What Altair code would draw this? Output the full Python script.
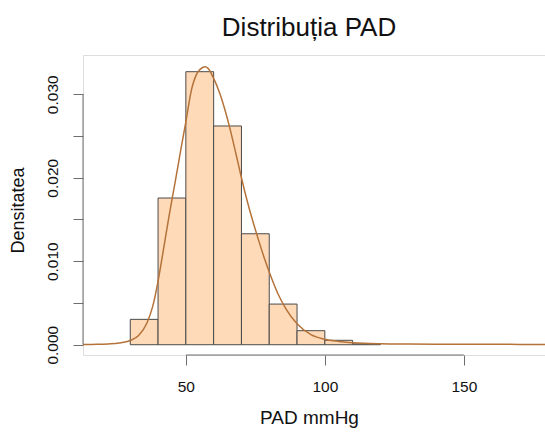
import altair as alt
import pandas as pd

# Histogram bins (width 10) and densities
bin_start = [30, 40, 50, 60, 70, 80, 90, 100, 110]
bin_density = [0.00304, 0.01757, 0.0327, 0.0262, 0.01329, 0.00487, 0.00168, 0.00053, 0.0001]

# Kernel density curve
curve_x = [13, 18, 22, 26, 30, 33, 36, 38, 40, 42, 44, 46, 48, 50, 52, 54, 56, 57, 58,
           60, 62, 64, 66, 68, 70, 72, 74, 76, 78, 80, 83, 86, 90, 95, 100, 105, 110,
           120, 130, 140, 150, 160, 170, 180]
curve_y = [0.00002, 0.00005, 0.0001, 0.0002, 0.0005, 0.0011, 0.0026, 0.0045, 0.0076,
           0.0115, 0.0155, 0.0192, 0.0230, 0.0267, 0.0305, 0.0325, 0.0332, 0.0333, 0.0331,
           0.0319, 0.0303, 0.0282, 0.0257, 0.0229, 0.0200, 0.0173, 0.0149, 0.0127, 0.0106,
           0.0087, 0.0062, 0.0043, 0.0025, 0.0012, 0.00065, 0.0004, 0.00025,
           0.00012, 0.00008, 0.00006, 0.00005, 0.00005, 0.00004, 0.00003]

x_ticks = [50, 100, 150]
y_ticks = [0.0, 0.005, 0.010, 0.015, 0.020, 0.025, 0.030]

FONT = "Liberation Sans"
W, H = 462, 300

bins = pd.DataFrame({"start": bin_start,
                     "end": [b + 10 for b in bin_start],
                     "dens": bin_density,
                     "zero": [0.0] * len(bin_start)})
curve = pd.DataFrame({"x": curve_x, "y": curve_y})

xscale = alt.Scale(domain=[13.0, 179.2], nice=False, zero=False)
yscale = alt.Scale(domain=[-0.00123, 0.0347], nice=False, zero=False)

x_axis = alt.Axis(values=x_ticks, domain=False, grid=False, tickSize=10,
                  tickColor="#6e6e6e", tickWidth=1, labelFontSize=15.5,
                  labelFont=FONT, labelColor="#111", labelPadding=14,
                  labelBaseline="top", title="PAD mmHg", titleFont=FONT,
                  titleFontSize=19, titleFontWeight="normal", titleColor="#111",
                  titleX=226, titleY=68, titleBaseline="alphabetic", titleAlign="center")
y_axis = alt.Axis(values=y_ticks, domain=False, grid=False, tickSize=10,
                  tickColor="#6e6e6e", tickWidth=1, labelFontSize=15.5,
                  labelFont=FONT, labelColor="#111", labelAngle=-90,
                  labelAlign="center", labelBaseline="bottom", labelPadding=13,
                  labelExpr="round(datum.value*1000) % 10 == 0 ? format(datum.value, '.3f') : ''",
                  title="Densitatea", titleFont=FONT, titleFontSize=18,
                  titleFontWeight="normal", titleColor="#111", titleX=-65, titleY=155,
                  titleBaseline="middle", titleAlign="center", titleAngle=-90)

bars = alt.Chart(bins).mark_rect(fill="#FFDAB9", stroke="#4a4a4a", strokeWidth=1).encode(
    x=alt.X("start:Q", scale=xscale, axis=x_axis),
    x2="end:Q",
    y=alt.Y("dens:Q", scale=yscale, axis=y_axis),
    y2="zero:Q",
)

line = alt.Chart(curve).mark_line(color="#B5733A", strokeWidth=1.5, clip=True,
                                  interpolate="monotone").encode(
    x=alt.X("x:Q", scale=xscale),
    y=alt.Y("y:Q", scale=yscale),
)

xline = alt.Chart(pd.DataFrame({"a": [x_ticks[0]], "b": [x_ticks[-1]]})).mark_rule(
    color="#6e6e6e", strokeWidth=1).encode(
    x=alt.X("a:Q", scale=xscale), x2="b:Q", y=alt.value(H))

yline = alt.Chart(pd.DataFrame({"a": [y_ticks[0]], "b": [y_ticks[-1]]})).mark_rule(
    color="#6e6e6e", strokeWidth=1).encode(
    y=alt.Y("a:Q", scale=yscale), y2="b:Q", x=alt.value(0))

chart = alt.layer(bars, line, xline, yline).properties(
    width=W, height=H,
    title=alt.TitleParams(text="Distribuția PAD", font=FONT, fontSize=26,
                          fontWeight="normal", color="#111", anchor="middle",
                          dx=-5, offset=14),
    autosize=alt.AutoSizeParams(type="none"),
    padding={"left": 83, "top": 55, "right": 0, "bottom": 79},
).configure_view(strokeWidth=0).configure(background="white")

chart.save("out.html", embed_options={"renderer": "svg", "actions": False})
